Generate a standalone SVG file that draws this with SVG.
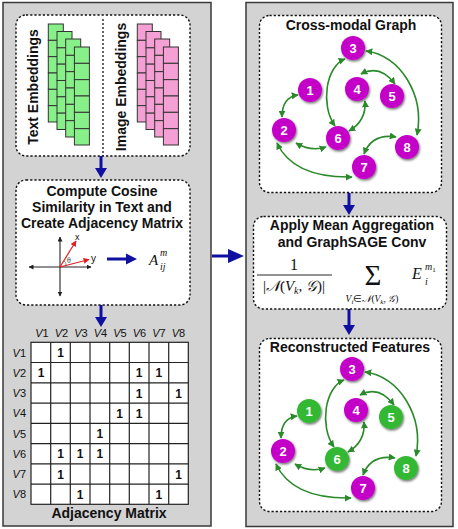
<svg xmlns="http://www.w3.org/2000/svg" xmlns:xlink="http://www.w3.org/1999/xlink" width="458" height="529" viewBox="0 0 458 529">
<style>
.panel{fill:#d3d3d3;stroke:#3a3a3a;stroke-width:1.5}
.box{fill:#fff;stroke:#111;stroke-width:1.4;stroke-dasharray:2.2 2}
.title{font-family:"Liberation Sans",Arial,sans-serif;font-weight:bold;font-size:14px;fill:#111;text-anchor:middle}
.blue{stroke:#1010a0;stroke-width:3;fill:none}
.bluehead{fill:#1010a0}
.edge{stroke:#2a8a2a;stroke-width:1.6;fill:none;marker-start:url(#ga);marker-end:url(#ga)}
.mag{fill:#c400c8}
.grn{fill:#33b833}
.nl{font-family:"Liberation Sans",Arial,sans-serif;font-weight:bold;font-size:13px;fill:#fff;text-anchor:middle}
.grid{stroke:#222;stroke-width:1.2;fill:#fff}
.gl{stroke:#222;stroke-width:1.2}
.hd{font-family:"Liberation Sans",Arial,sans-serif;font-size:11px;fill:#111}
.one{font-family:"Liberation Sans",Arial,sans-serif;font-weight:bold;font-size:12px;fill:#111;text-anchor:middle}
.math{font-family:"Liberation Serif","Times New Roman",serif;fill:#111}
.gc{fill:#88f088;stroke:#333;stroke-width:1}
.pc{fill:#f5a0d4;stroke:#333;stroke-width:1}
</style>
<defs>
<marker id="ga" viewBox="0 0 10 10" refX="9" refY="5" markerWidth="7" markerHeight="7" markerUnits="userSpaceOnUse" orient="auto-start-reverse">
<path d="M0,0 L10,5 L0,10 z" fill="#2a8a2a"/>
</marker>
<marker id="ka" viewBox="0 0 10 10" refX="9" refY="5" markerWidth="5" markerHeight="5" markerUnits="userSpaceOnUse" orient="auto-start-reverse">
<path d="M0,0 L10,5 L0,10 z" fill="#222"/>
</marker>
<marker id="ra" viewBox="0 0 10 10" refX="9" refY="5" markerWidth="6" markerHeight="6" markerUnits="userSpaceOnUse" orient="auto">
<path d="M0,0 L10,5 L0,10 z" fill="#e02020"/>
</marker>
<filter id="sh" x="-30%" y="-30%" width="160%" height="160%">
<feDropShadow dx="1" dy="1.5" stdDeviation="0.9" flood-color="#000" flood-opacity="0.55"/>
</filter>
<g id="colG">
<rect class="gc" x="0" y="0" width="15" height="16.33"/>
<rect class="gc" x="0" y="16.33" width="15" height="16.33"/>
<rect class="gc" x="0" y="32.66" width="15" height="16.33"/>
<rect class="gc" x="0" y="49" width="15" height="16.33"/>
<rect class="gc" x="0" y="65.33" width="15" height="16.33"/>
<rect class="gc" x="0" y="81.66" width="15" height="16.33"/>
</g>
<g id="colP">
<rect class="pc" x="0" y="0" width="15" height="16.33"/>
<rect class="pc" x="0" y="16.33" width="15" height="16.33"/>
<rect class="pc" x="0" y="32.66" width="15" height="16.33"/>
<rect class="pc" x="0" y="49" width="15" height="16.33"/>
<rect class="pc" x="0" y="65.33" width="15" height="16.33"/>
<rect class="pc" x="0" y="81.66" width="15" height="16.33"/>
</g>
</defs>

<!-- panels -->
<rect class="panel" x="3" y="2.5" width="208" height="523.5"/>
<rect class="panel" x="246" y="2.5" width="207" height="524"/>

<!-- embeddings box -->
<g id="embeddings">
<rect class="box" x="16" y="15" width="174" height="141" rx="10"/>
<line x1="103" y1="19" x2="103" y2="156" stroke="#111" stroke-width="1.3" stroke-dasharray="2 2"/>
<text class="title" transform="translate(38,87) rotate(-90)">Text Embeddings</text>
<text class="title" transform="translate(126,87) rotate(-90)">Image Embeddings</text>
<use xlink:href="#colG" x="48.3" y="24"/>
<use xlink:href="#colG" x="57" y="31.5"/>
<use xlink:href="#colG" x="65.7" y="39"/>
<use xlink:href="#colG" x="74.4" y="47"/>
<use xlink:href="#colP" x="137.3" y="24"/>
<use xlink:href="#colP" x="146" y="31.5"/>
<use xlink:href="#colP" x="154.7" y="39"/>
<use xlink:href="#colP" x="163.4" y="47"/>
</g>

<!-- cosine box -->
<g id="cosine">
<rect class="box" x="16" y="180" width="174" height="125" rx="10"/>
<text class="title" x="102" y="196">Compute Cosine</text>
<text class="title" x="102" y="212">Similarity in Text and</text>
<text class="title" x="102" y="228">Create Adjacency Matrix</text>
<line x1="60" y1="296" x2="60" y2="237" stroke="#222" stroke-width="1.1" marker-start="url(#ka)" marker-end="url(#ka)"/>
<line x1="29" y1="267" x2="91" y2="267" stroke="#222" stroke-width="1.1" marker-start="url(#ka)" marker-end="url(#ka)"/>
<line x1="60" y1="267" x2="76" y2="241" stroke="#e02020" stroke-width="1.2" marker-end="url(#ra)"/>
<line x1="60" y1="267" x2="89" y2="259.5" stroke="#e02020" stroke-width="1.2" marker-end="url(#ra)"/>
<path d="M64,261 Q66.5,262.5 66,265.5" fill="none" stroke="#444" stroke-width="0.6"/>
<text x="67" y="263" font-family="Liberation Serif,serif" font-size="8" fill="#444">θ</text>
<text x="75" y="240" font-family="Liberation Sans,Arial,sans-serif" font-size="9" fill="#111">x</text>
<text x="91" y="262" font-family="Liberation Sans,Arial,sans-serif" font-size="10" fill="#111">y</text>
<line class="blue" x1="107" y1="259" x2="127" y2="259"/>
<path class="bluehead" d="M126,253.5 L137,259 L126,264.5 z"/>
<text class="math" x="149" y="265" font-size="15" font-style="italic" fill="#555">A</text>
<text class="math" x="160" y="256" font-size="10" font-style="italic" fill="#555">m</text>
<text class="math" x="160" y="270" font-size="10" font-style="italic" fill="#555">ij</text>
</g>

<!-- adjacency matrix -->
<g id="matrix">
<rect class="grid" x="31" y="342.3" width="157.3" height="162"/>
<g class="gl">
<line x1="50.7" y1="342.3" x2="50.7" y2="504.3"/>
<line x1="70.3" y1="342.3" x2="70.3" y2="504.3"/>
<line x1="90" y1="342.3" x2="90" y2="504.3"/>
<line x1="109.7" y1="342.3" x2="109.7" y2="504.3"/>
<line x1="129.3" y1="342.3" x2="129.3" y2="504.3"/>
<line x1="149" y1="342.3" x2="149" y2="504.3"/>
<line x1="168.7" y1="342.3" x2="168.7" y2="504.3"/>
<line x1="31" y1="362.5" x2="188.3" y2="362.5"/>
<line x1="31" y1="382.8" x2="188.3" y2="382.8"/>
<line x1="31" y1="403.1" x2="188.3" y2="403.1"/>
<line x1="31" y1="423.3" x2="188.3" y2="423.3"/>
<line x1="31" y1="443.6" x2="188.3" y2="443.6"/>
<line x1="31" y1="463.8" x2="188.3" y2="463.8"/>
<line x1="31" y1="484.1" x2="188.3" y2="484.1"/>
</g>
<g class="hd" text-anchor="middle">
<text x="42" y="337"><tspan font-style="italic">V</tspan>1</text>
<text x="61.5" y="337"><tspan font-style="italic">V</tspan>2</text>
<text x="81" y="337"><tspan font-style="italic">V</tspan>3</text>
<text x="100.5" y="337"><tspan font-style="italic">V</tspan>4</text>
<text x="120" y="337"><tspan font-style="italic">V</tspan>5</text>
<text x="139.5" y="337"><tspan font-style="italic">V</tspan>6</text>
<text x="159" y="337"><tspan font-style="italic">V</tspan>7</text>
<text x="178.5" y="337"><tspan font-style="italic">V</tspan>8</text>
</g>
<g class="hd" text-anchor="end">
<text x="26" y="356.5"><tspan font-style="italic">V</tspan>1</text>
<text x="26" y="376.8"><tspan font-style="italic">V</tspan>2</text>
<text x="26" y="397"><tspan font-style="italic">V</tspan>3</text>
<text x="26" y="417.3"><tspan font-style="italic">V</tspan>4</text>
<text x="26" y="437.5"><tspan font-style="italic">V</tspan>5</text>
<text x="26" y="457.8"><tspan font-style="italic">V</tspan>6</text>
<text x="26" y="478"><tspan font-style="italic">V</tspan>7</text>
<text x="26" y="498.3"><tspan font-style="italic">V</tspan>8</text>
</g>
<g class="one">
<text x="60.5" y="357">1</text>
<text x="41" y="377.2">1</text>
<text x="139.2" y="377.2">1</text>
<text x="158.8" y="377.2">1</text>
<text x="139.2" y="397.5">1</text>
<text x="178.5" y="397.5">1</text>
<text x="119.5" y="417.7">1</text>
<text x="139.2" y="417.7">1</text>
<text x="99.8" y="438">1</text>
<text x="60.5" y="458.2">1</text>
<text x="80.2" y="458.2">1</text>
<text x="99.8" y="458.2">1</text>
<text x="60.5" y="478.5">1</text>
<text x="178.5" y="478.5">1</text>
<text x="80.2" y="498.7">1</text>
<text x="158.8" y="498.7">1</text>
</g>
<text class="title" x="109" y="518">Adjacency Matrix</text>
</g>

<!-- graph box -->
<g id="graph-box">
<rect class="box" x="259.5" y="15.5" width="182" height="177" rx="10"/>
<text class="title" x="351" y="30">Cross-modal Graph</text>
</g>
<g id="aggregation">
<rect class="box" x="253.5" y="216.5" width="193" height="92.5" rx="10"/>
<text class="title" x="352" y="230">Apply Mean Aggregation</text>
<text class="title" x="352" y="247">and GraphSAGE Conv</text>
<text class="math" x="294" y="270" font-size="16" text-anchor="middle">1</text>
<line x1="257" y1="275" x2="332" y2="275" stroke="#111" stroke-width="0.9"/>
<text class="math" x="294" y="291" font-size="15" text-anchor="middle">|<tspan font-style="italic">𝒩</tspan>(<tspan font-style="italic">V</tspan><tspan font-size="10" font-style="italic" dy="3">k</tspan><tspan dy="-3">, </tspan><tspan font-style="italic">𝒢</tspan>)|</text>
<text class="math" x="373" y="285" font-size="29" text-anchor="middle">Σ</text>
<text class="math" x="372" y="302" font-size="9.5" text-anchor="middle"><tspan font-style="italic">V</tspan><tspan font-size="7" font-style="italic" dy="2">i</tspan><tspan dy="-2">∈</tspan><tspan font-style="italic">𝒩</tspan>(<tspan font-style="italic">V</tspan><tspan font-size="7" font-style="italic" dy="2">k</tspan><tspan dy="-2">, </tspan><tspan font-style="italic">𝒢</tspan>)</text>
<text class="math" x="412" y="279" font-size="16" font-style="italic">E</text>
<text class="math" x="425" y="270" font-size="10" font-style="italic">m<tspan font-size="7" font-style="normal" dy="2">1</tspan></text>
<text class="math" x="425" y="285" font-size="10" font-style="italic">i</text>
</g>
<g id="recon-box">
<rect class="box" x="259.5" y="338.5" width="182" height="173" rx="10"/>
<text class="title" x="350" y="352">Reconstructed Features</text>
</g>

<!-- connectors -->
<g id="connectors">
<line class="blue" x1="101" y1="156" x2="101" y2="169"/>
<path class="bluehead" d="M95,168 L107,168 L101,178 z"/>
<line class="blue" x1="101" y1="305" x2="101" y2="318"/>
<path class="bluehead" d="M95,317 L107,317 L101,327 z"/>
<line class="blue" x1="212" y1="256" x2="230" y2="256"/>
<path class="bluehead" d="M228,249 L244,256 L228,263 z"/>
<line class="blue" x1="349" y1="193" x2="349" y2="206"/>
<path class="bluehead" d="M343,205 L355,205 L349,215 z"/>
<line class="blue" x1="349" y1="309" x2="349" y2="326"/>
<path class="bluehead" d="M343,325 L355,325 L349,335 z"/>
<g id="edges-top">
<path class="edge" d="M298,95 Q282,97 282,117"/>
<path class="edge" d="M296,143 Q311,152 326,147"/>
<path class="edge" d="M277,143 Q293,178 352,177"/>
<path class="edge" d="M345,59 C326,66 320,105 335,126"/>
<path class="edge" d="M365,101 C366,114 361,124 349,131"/>
<path class="edge" d="M361,74 Q380,64 395,84"/>
<path class="edge" d="M366,51 C400,55 425,95 417,135"/>
<path class="edge" d="M364,154 Q372,133 396,137"/>
</g>
<g id="edges-bottom" transform="translate(-1,321)">
<path class="edge" d="M298,95 Q282,97 282,117"/>
<path class="edge" d="M296,143 Q311,152 326,147"/>
<path class="edge" d="M277,143 Q293,178 352,177"/>
<path class="edge" d="M345,59 C326,66 320,105 335,126"/>
<path class="edge" d="M365,101 C366,114 361,124 349,131"/>
<path class="edge" d="M361,74 Q380,64 395,84"/>
<path class="edge" d="M366,51 C400,55 425,95 417,135"/>
<path class="edge" d="M364,154 Q372,133 396,137"/>
</g>
</g>

<!-- top graph nodes -->
<g id="t1"><circle class="mag" cx="310" cy="90" r="12" filter="url(#sh)"/><text class="nl" x="310" y="94.5">1</text></g>
<g id="t2"><circle class="mag" cx="284" cy="130" r="12" filter="url(#sh)"/><text class="nl" x="284" y="134.5">2</text></g>
<g id="t3"><circle class="mag" cx="353" cy="48" r="12" filter="url(#sh)"/><text class="nl" x="353" y="52.5">3</text></g>
<g id="t4"><circle class="mag" cx="357" cy="89" r="12" filter="url(#sh)"/><text class="nl" x="357" y="93.5">4</text></g>
<g id="t5"><circle class="mag" cx="392" cy="96" r="12" filter="url(#sh)"/><text class="nl" x="392" y="100.5">5</text></g>
<g id="t6"><circle class="mag" cx="338" cy="138" r="12" filter="url(#sh)"/><text class="nl" x="338" y="142.5">6</text></g>
<g id="t7"><circle class="mag" cx="364" cy="167" r="12" filter="url(#sh)"/><text class="nl" x="364" y="171.5">7</text></g>
<g id="t8"><circle class="mag" cx="407" cy="147" r="12" filter="url(#sh)"/><text class="nl" x="407" y="151.5">8</text></g>

<!-- bottom graph nodes -->
<g id="b1"><circle class="grn" cx="309" cy="411" r="12" filter="url(#sh)"/><text class="nl" x="309" y="415.5">1</text></g>
<g id="b2"><circle class="mag" cx="283" cy="451" r="12" filter="url(#sh)"/><text class="nl" x="283" y="455.5">2</text></g>
<g id="b3"><circle class="mag" cx="352" cy="369" r="12" filter="url(#sh)"/><text class="nl" x="352" y="373.5">3</text></g>
<g id="b4"><circle class="mag" cx="356" cy="410" r="12" filter="url(#sh)"/><text class="nl" x="356" y="414.5">4</text></g>
<g id="b5"><circle class="grn" cx="391" cy="417" r="12" filter="url(#sh)"/><text class="nl" x="391" y="421.5">5</text></g>
<g id="b6"><circle class="grn" cx="337" cy="459" r="12" filter="url(#sh)"/><text class="nl" x="337" y="463.5">6</text></g>
<g id="b7"><circle class="mag" cx="363" cy="488" r="12" filter="url(#sh)"/><text class="nl" x="363" y="492.5">7</text></g>
<g id="b8"><circle class="grn" cx="406" cy="468" r="12" filter="url(#sh)"/><text class="nl" x="406" y="472.5">8</text></g>
</svg>
